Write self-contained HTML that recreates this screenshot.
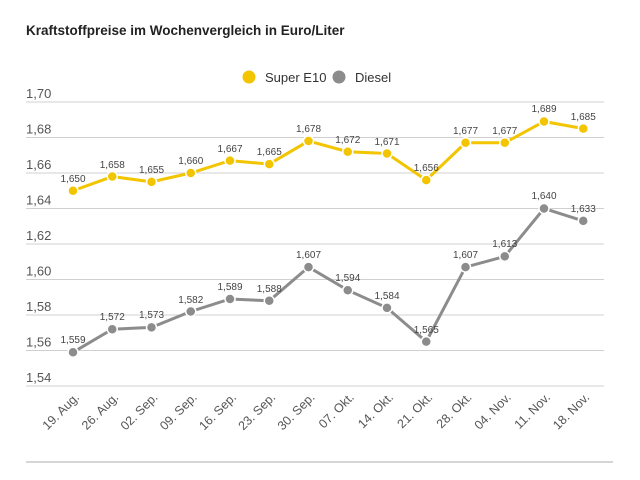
<!DOCTYPE html>
<html><head><meta charset="utf-8"><style>
html,body{margin:0;padding:0;background:#fff;}
svg{display:block;font-family:"Liberation Sans",sans-serif;}
</style></head><body>
<svg width="640" height="480" viewBox="0 0 640 480">
<text x="26" y="35" font-size="13.5" font-weight="bold" fill="#222">Kraftstoffpreise im Wochenvergleich in Euro/Liter</text>
<circle cx="249" cy="77" r="6.5" fill="#f2c500"/>
<text x="265" y="82" font-size="13" fill="#333">Super E10</text>
<circle cx="339" cy="77" r="6.5" fill="#8c8c8c"/>
<text x="355" y="82" font-size="13" fill="#333">Diesel</text>
<g stroke="#d0d0d0" stroke-width="1">
<line x1="26" y1="102" x2="604" y2="102"/><line x1="26" y1="137.5" x2="604" y2="137.5"/>
<line x1="26" y1="173" x2="604" y2="173"/><line x1="26" y1="208.5" x2="604" y2="208.5"/>
<line x1="26" y1="244" x2="604" y2="244"/><line x1="26" y1="279.5" x2="604" y2="279.5"/>
<line x1="26" y1="315" x2="604" y2="315"/><line x1="26" y1="350.5" x2="604" y2="350.5"/>
<line x1="26" y1="386" x2="604" y2="386"/>
</g>
<line x1="26" y1="462" x2="613" y2="462" stroke="#c8c8c8" stroke-width="1.5"/>
<g font-size="13" fill="#555">
<text x="26" y="98">1,70</text><text x="26" y="133.5">1,68</text><text x="26" y="169">1,66</text>
<text x="26" y="204.5">1,64</text><text x="26" y="240">1,62</text><text x="26" y="275.5">1,60</text>
<text x="26" y="311">1,58</text><text x="26" y="346.5">1,56</text><text x="26" y="382">1,54</text>
</g>
<polyline fill="none" stroke="#f2c500" stroke-width="3" points="73,190.75 112.25,176.55 151.5,181.9 190.75,173 230,160.6 269.25,164.1 308.5,141.05 347.75,151.7 387,153.5 426.25,180.1 465.5,142.8 504.75,142.8 544,121.5 583.25,128.6"/>
<polyline fill="none" stroke="#8c8c8c" stroke-width="3" points="73,352.3 112.25,329.2 151.5,327.4 190.75,311.5 230,299 269.25,300.8 308.5,267.1 347.75,290.2 387,307.9 426.25,341.6 465.5,267.1 504.75,256.4 544,208.5 583.25,220.9"/>
<g fill="#f2c500" stroke="#fff" stroke-width="1.5">
<circle cx="73" cy="190.75" r="5"/><circle cx="112.25" cy="176.55" r="5"/><circle cx="151.5" cy="181.9" r="5"/><circle cx="190.75" cy="173" r="5"/><circle cx="230" cy="160.6" r="5"/><circle cx="269.25" cy="164.1" r="5"/><circle cx="308.5" cy="141.05" r="5"/><circle cx="347.75" cy="151.7" r="5"/><circle cx="387" cy="153.5" r="5"/><circle cx="426.25" cy="180.1" r="5"/><circle cx="465.5" cy="142.8" r="5"/><circle cx="504.75" cy="142.8" r="5"/><circle cx="544" cy="121.5" r="5"/><circle cx="583.25" cy="128.6" r="5"/>
</g>
<g fill="#8c8c8c" stroke="#fff" stroke-width="1.5">
<circle cx="73" cy="352.3" r="5"/><circle cx="112.25" cy="329.2" r="5"/><circle cx="151.5" cy="327.4" r="5"/><circle cx="190.75" cy="311.5" r="5"/><circle cx="230" cy="299" r="5"/><circle cx="269.25" cy="300.8" r="5"/><circle cx="308.5" cy="267.1" r="5"/><circle cx="347.75" cy="290.2" r="5"/><circle cx="387" cy="307.9" r="5"/><circle cx="426.25" cy="341.6" r="5"/><circle cx="465.5" cy="267.1" r="5"/><circle cx="504.75" cy="256.4" r="5"/><circle cx="544" cy="208.5" r="5"/><circle cx="583.25" cy="220.9" r="5"/>
</g>
<g font-size="10" fill="#444" text-anchor="middle">
<text x="73" y="182">1,650</text><text x="112.25" y="168">1,658</text><text x="151.5" y="173">1,655</text><text x="190.75" y="164">1,660</text><text x="230" y="152">1,667</text><text x="269.25" y="155">1,665</text><text x="308.5" y="132">1,678</text><text x="347.75" y="143">1,672</text><text x="387" y="145">1,671</text><text x="426.25" y="171">1,656</text><text x="465.5" y="134">1,677</text><text x="504.75" y="134">1,677</text><text x="544" y="112">1,689</text><text x="583.25" y="120">1,685</text>
<text x="73" y="343">1,559</text><text x="112.25" y="320">1,572</text><text x="151.5" y="318">1,573</text><text x="190.75" y="303">1,582</text><text x="230" y="290">1,589</text><text x="269.25" y="292">1,588</text><text x="308.5" y="258">1,607</text><text x="347.75" y="281">1,594</text><text x="387" y="299">1,584</text><text x="426.25" y="333">1,565</text><text x="465.5" y="258">1,607</text><text x="504.75" y="247">1,613</text><text x="544" y="199">1,640</text><text x="583.25" y="212">1,633</text>
</g>
<g font-size="12.5" fill="#555" text-anchor="end">
<text transform="translate(80,398) rotate(-45)">19. Aug.</text>
<text transform="translate(119.25,398) rotate(-45)">26. Aug.</text>
<text transform="translate(158.5,398) rotate(-45)">02. Sep.</text>
<text transform="translate(197.75,398) rotate(-45)">09. Sep.</text>
<text transform="translate(237,398) rotate(-45)">16. Sep.</text>
<text transform="translate(276.25,398) rotate(-45)">23. Sep.</text>
<text transform="translate(315.5,398) rotate(-45)">30. Sep.</text>
<text transform="translate(354.75,398) rotate(-45)">07. Okt.</text>
<text transform="translate(394,398) rotate(-45)">14. Okt.</text>
<text transform="translate(433.25,398) rotate(-45)">21. Okt.</text>
<text transform="translate(472.5,398) rotate(-45)">28. Okt.</text>
<text transform="translate(511.75,398) rotate(-45)">04. Nov.</text>
<text transform="translate(551,398) rotate(-45)">11. Nov.</text>
<text transform="translate(590.25,398) rotate(-45)">18. Nov.</text>
</g>
</svg>
</body></html>
